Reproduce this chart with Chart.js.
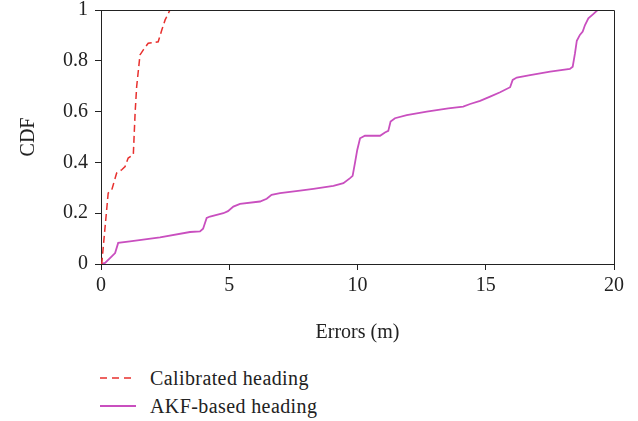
<!DOCTYPE html>
<html>
<head>
<meta charset="utf-8">
<script src="https://cdn.jsdelivr.net/npm/chart.js@4/dist/chart.umd.min.js"></script>
<style>
  html, body { margin: 0; padding: 0; background: #fff; }
  #wrap { position: relative; width: 638px; height: 421px; font-family: "Liberation Serif", "Times New Roman", serif; color: #222; }
  #c { position: absolute; left: 0; top: 0; }
  .leg { position: absolute; left: 100px; height: 24px; display: flex; align-items: center; font-size: 20px; letter-spacing: 0.4px; }
  .leg svg { margin-right: 14px; }
</style>
</head>
<body>
<div id="wrap">
  <canvas id="c" width="638" height="345"></canvas>
  <div class="leg" style="top:366px;"><svg width="36" height="6"><line x1="0" y1="3" x2="36" y2="3" stroke="#e8302e" stroke-width="1.5" stroke-dasharray="7,5"/></svg><span>Calibrated heading</span></div>
  <div class="leg" style="top:394px;"><svg width="36" height="6"><line x1="0" y1="3" x2="36" y2="3" stroke="#c94fbf" stroke-width="1.8"/></svg><span>AKF-based heading</span></div>
</div>
<script>
const seriesNames = ["Calibrated heading", "AKF-based heading"];

const calibratedX = [0, 0.03, 0.09, 0.28, 0.42, 0.61, 0.81, 0.94, 1.06, 1.26, 1.33, 1.39, 1.52, 1.65, 1.84, 2.23, 2.37, 2.50, 2.69];
const calibratedY = [0, 0, 0.069, 0.279, 0.292, 0.358, 0.371, 0.384, 0.417, 0.430, 0.595, 0.698, 0.823, 0.843, 0.869, 0.875, 0.921, 0.961, 1.0];

const akfX = [0, 0.03, 0.16, 0.42, 0.55, 0.67, 1.13, 2.30, 3.47, 3.86, 3.98, 4.12, 4.25, 4.77, 4.95, 5.16, 5.42, 6.20, 6.46, 6.65, 6.98, 7.76, 8.28, 9.06, 9.45, 9.71, 9.81, 9.90, 9.99, 10.10, 10.29, 10.88, 11.07, 11.20, 11.29, 11.46, 11.92, 12.70, 13.54, 14.12, 14.39, 14.78, 15.17, 15.56, 15.95, 16.05, 16.21, 16.73, 17.51, 18.28, 18.39, 18.48, 18.55, 18.67, 18.78, 18.87, 19.00, 19.19, 19.33, 19.40];
const akfY = [0, 0, 0.004, 0.030, 0.043, 0.083, 0.089, 0.105, 0.126, 0.128, 0.139, 0.181, 0.187, 0.200, 0.208, 0.226, 0.237, 0.246, 0.257, 0.272, 0.279, 0.289, 0.296, 0.308, 0.318, 0.338, 0.347, 0.397, 0.449, 0.495, 0.505, 0.505, 0.518, 0.524, 0.561, 0.574, 0.586, 0.600, 0.613, 0.620, 0.630, 0.642, 0.659, 0.676, 0.696, 0.725, 0.734, 0.744, 0.757, 0.768, 0.777, 0.830, 0.879, 0.902, 0.915, 0.941, 0.967, 0.984, 0.997, 1.0];

const xTickValues = [0, 5, 10, 15, 20];
const yTickValues = [0, 0.2, 0.4, 0.6, 0.8, 1];
const xTitle = "Errors (m)";
const yTitle = "CDF";

const toPts = (xs, ys) => xs.map((x, i) => ({ x: x, y: ys[i] }));
const FONT = { family: "'Liberation Serif', 'Times New Roman', serif", size: 20 };
const AX = '#222';

const boxPlugin = {
  id: 'box',
  afterDraw(chart) {
    const { ctx, chartArea: a } = chart;
    ctx.save();
    ctx.strokeStyle = AX;
    ctx.lineWidth = 1;
    ctx.beginPath();
    ctx.moveTo(Math.round(a.left) + 0.5, Math.round(a.top) + 0.5);
    ctx.lineTo(Math.round(a.right) + 0.5, Math.round(a.top) + 0.5);
    ctx.lineTo(Math.round(a.right) + 0.5, Math.round(a.bottom) + 0.5);
    ctx.stroke();
    ctx.restore();
  }
};

new Chart(document.getElementById('c'), {
  type: 'line',
  data: {
    datasets: [
      { label: seriesNames[0], data: toPts(calibratedX, calibratedY), borderColor: '#e8302e', borderWidth: 1.5, borderDash: [7, 4], pointRadius: 0, tension: 0, fill: false },
      { label: seriesNames[1], data: toPts(akfX, akfY), borderColor: '#c94fbf', borderWidth: 1.8, pointRadius: 0, tension: 0, fill: false }
    ]
  },
  options: {
    responsive: false,
    animation: false,
    layout: { padding: { left: 0, top: 10, right: 24, bottom: 0 } },
    plugins: { legend: { display: false }, tooltip: { enabled: false } },
    scales: {
      x: {
        type: 'linear', min: 0, max: 20,
        afterBuildTicks: s => { s.ticks = xTickValues.map(v => ({ value: v })); },
        afterFit: s => { s.height = 81; s.paddingLeft = 0; s.paddingRight = 0; },
        ticks: { color: AX, font: FONT, padding: 4, maxRotation: 0, callback: v => String(v) },
        grid: { drawOnChartArea: false, drawTicks: true, tickLength: 6, color: AX, tickColor: AX },
        border: { color: AX, width: 1 },
        title: { display: true, text: xTitle, color: AX, font: FONT, padding: { top: 0, bottom: 0 } }
      },
      y: {
        type: 'linear', min: 0, max: 1,
        afterBuildTicks: s => { s.ticks = yTickValues.map(v => ({ value: v })); },
        afterFit: s => { s.width = 101; s.paddingTop = 0; s.paddingBottom = 0; },
        ticks: { color: AX, font: FONT, padding: 7, callback: v => String(Math.round(v * 10) / 10) },
        grid: { drawOnChartArea: false, drawTicks: true, tickLength: 6, color: AX, tickColor: AX },
        border: { color: AX, width: 1 },
        title: { display: true, text: yTitle, color: AX, font: FONT, padding: { top: 17, bottom: 0 } }
      }
    }
  },
  plugins: [boxPlugin]
});
</script>
</body>
</html>
